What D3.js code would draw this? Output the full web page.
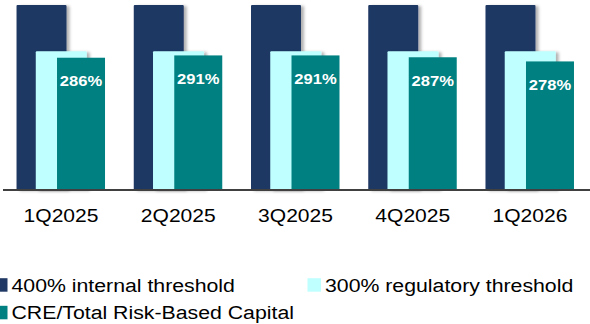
<!DOCTYPE html>
<html>
<head>
<meta charset="utf-8">
<script src="https://cdn.jsdelivr.net/npm/d3@7"></script>
<style>
  body { margin: 0; background: #fff; }
  svg { display: block; font-family: "Liberation Sans", Arial, sans-serif; }
</style>
</head>
<body>
<div id="chart"></div>
<script>
// data
const quarters = ["1Q2025", "2Q2025", "3Q2025", "4Q2025", "1Q2026"];
const internalThreshold = [400, 400, 400, 400, 400];
const regulatoryThreshold = [300, 300, 300, 300, 300];
const creRatio = [286, 291, 291, 287, 278];
const seriesNames = ["400% internal threshold", "300% regulatory threshold", "CRE/Total Risk-Based Capital"];
const seriesColors = ["#1f3864", "#c0ffff", "#008080"];

const width = 590, height = 324;
const baseY = 190;
const stretch = 1.12; // text in the reference is a bit wide

const svg = d3.select("#chart").append("svg")
  .attr("width", width)
  .attr("height", height);

const defs = svg.append("defs");
const shadow = defs.append("filter").attr("id", "shadow")
  .attr("x", "-20%").attr("y", "-20%").attr("width", "150%").attr("height", "140%");
shadow.append("feDropShadow")
  .attr("dx", 3).attr("dy", 1).attr("stdDeviation", 1.8)
  .attr("flood-color", "#000").attr("flood-opacity", 0.3);

const x = d3.scaleBand().domain(quarters).range([2.4, 588.6]).padding(0);
const y = d3.scaleLinear().domain([0, 400]).range([baseY, 5]);

// offset of each series inside a group (bars overlap)
const offset = d3.scalePoint().domain([0, 1, 2]).range([-19.5, 20]);
const barW = [50, 51, 48];

const series = [internalThreshold, regulatoryThreshold, creRatio];

series.forEach((vals, si) => {
  svg.append("g")
    .selectAll("rect")
    .data(vals)
    .join("rect")
    .attr("x", (d, i) => x(quarters[i]) + x.bandwidth() / 2 + offset(si) - barW[si] / 2)
    .attr("y", d => y(d))
    .attr("width", barW[si])
    .attr("height", d => baseY - y(d))
    .attr("rx", si === 2 ? 0 : 1)
    .attr("fill", seriesColors[si])
    .attr("filter", si === 2 ? null : "url(#shadow)");
});

// value labels in the teal bars
svg.append("g")
  .selectAll("text")
  .data(creRatio)
  .join("text")
  .attr("transform", (d, i) => `translate(${x(quarters[i]) + x.bandwidth() / 2 + offset(2)},${y(d) + 28.5}) scale(${stretch},1)`)
  .attr("text-anchor", "middle")
  .attr("fill", "#fff")
  .attr("font-weight", "bold")
  .attr("font-size", "14.8px")
  .text(d => d + "%");

// axis line
svg.append("line")
  .attr("x1", 3).attr("x2", 590)
  .attr("y1", baseY).attr("y2", baseY)
  .attr("stroke", "#404040")
  .attr("stroke-width", 2);

// x axis labels
const xAxis = d3.axisBottom(x).tickSize(0).tickPadding(0);
const gx = svg.append("g").attr("transform", `translate(0,${baseY})`).call(xAxis);
gx.select(".domain").remove();
gx.selectAll("text")
  .attr("y", 0).attr("dy", 0)
  .attr("transform", `translate(0,32) scale(${stretch},1)`)
  .attr("fill", "#000")
  .attr("font-size", "18.8px")
  .attr("font-family", "Liberation Sans, Arial, sans-serif");

// legend
const legendItems = [
  { name: seriesNames[0], color: seriesColors[0], lx: -6, ly: 291.7 },
  { name: seriesNames[1], color: seriesColors[1], lx: 307.5, ly: 291.7 },
  { name: seriesNames[2], color: seriesColors[2], lx: -6, ly: 319.3 }
];
const legend = svg.append("g").selectAll("g").data(legendItems).join("g");
legend.append("rect")
  .attr("x", d => d.lx)
  .attr("y", d => d.ly - 13.5)
  .attr("width", 13.5)
  .attr("height", 13.5)
  .attr("fill", d => d.color);
legend.append("text")
  .attr("transform", d => `translate(${d.lx + 17.5},${d.ly}) scale(${stretch},1)`)
  .attr("font-size", "19px")
  .attr("fill", "#000")
  .text(d => d.name);
</script>
</body>
</html>
